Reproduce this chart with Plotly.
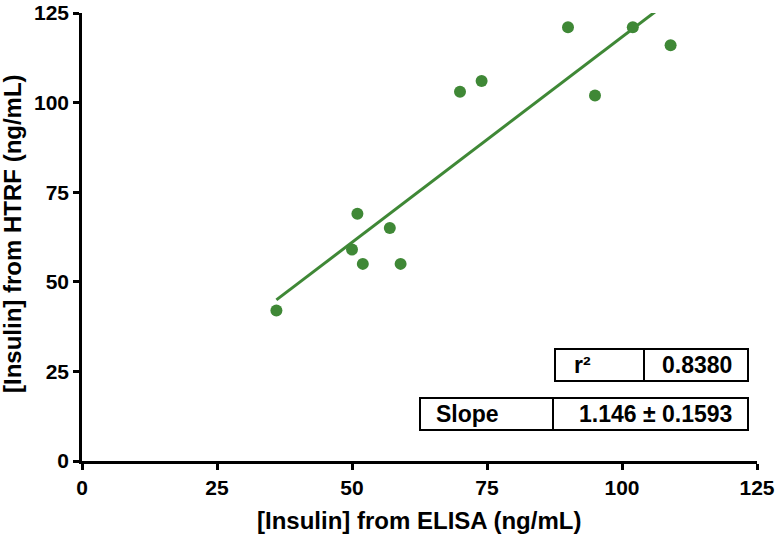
import plotly.graph_objects as go

elisa = [36, 50, 51, 52, 57, 59, 70, 74, 90, 95, 102, 109]
htrf = [42, 59, 69, 55, 65, 55, 103, 106, 121, 102, 121, 116]
slope = 1.146
slope_se = 0.1593
intercept = 3.7
r2 = 0.8380
ticks = [0, 25, 50, 75, 100, 125]
x_title = "[Insulin] from ELISA (ng/mL)"
y_title = "[Insulin] from HTRF (ng/mL)"

green = "#3f8836"
font_fam = "Liberation Sans, Arial, sans-serif"

fig = go.Figure()
xfit = [min(elisa), max(elisa)]
yfit = [slope * v + intercept for v in xfit]
fig.add_trace(go.Scatter(x=xfit, y=yfit, mode="lines",
                         line=dict(color=green, width=3), hoverinfo="skip"))
fig.add_trace(go.Scatter(x=elisa, y=htrf, mode="markers",
                         marker=dict(color=green, size=12), cliponaxis=False))

W, H = 778, 534
L, R, T, B = 82, 21, 13, 73
pw, ph = W - L - R, H - T - B

def px(x):
    return (x - L) / pw

def py(y):
    return (H - B - y) / ph

shapes = []
annotations = []
box = dict(type="rect", xref="paper", yref="paper", line=dict(color="black", width=2),
           fillcolor="white", layer="above")
# r2 box
shapes.append(dict(box, x0=px(555), x1=px(748), y0=py(381), y1=py(349)))
shapes.append(dict(type="line", xref="paper", yref="paper", x0=px(644), x1=px(644),
                   y0=py(381), y1=py(349), line=dict(color="black", width=2)))
# slope box
shapes.append(dict(box, x0=px(420), x1=px(748), y0=py(430), y1=py(398)))
shapes.append(dict(type="line", xref="paper", yref="paper", x0=px(553), x1=px(553),
                   y0=py(430), y1=py(398), line=dict(color="black", width=2)))

tf = dict(family=font_fam, size=23, color="black")
annotations.append(dict(x=px(572), y=py(365), xref="paper", yref="paper", text="<b>r²</b>",
                        showarrow=False, xanchor="left", yanchor="middle", font=tf))
annotations.append(dict(x=px(734), y=py(365), xref="paper", yref="paper", text=f"<b>{r2:.4f}</b>",
                        showarrow=False, xanchor="right", yanchor="middle", font=tf))
annotations.append(dict(x=px(434), y=py(414), xref="paper", yref="paper", text="<b>Slope</b>",
                        showarrow=False, xanchor="left", yanchor="middle", font=tf))
annotations.append(dict(x=px(734), y=py(414), xref="paper", yref="paper",
                        text=f"<b>{slope:.3f} ± {slope_se:.4f}</b>",
                        showarrow=False, xanchor="right", yanchor="middle", font=tf))

title_font = dict(family=font_fam, size=24, color="black")
annotations.append(dict(x=px(419), y=py(520), xref="paper", yref="paper",
                        text=f"<b>{x_title}</b>", showarrow=False,
                        xanchor="center", yanchor="middle", font=title_font))
annotations.append(dict(x=px(12), y=py(234), xref="paper", yref="paper",
                        text=f"<b>{y_title}</b>", showarrow=False, textangle=-90,
                        xanchor="center", yanchor="middle", font=title_font))

axis_common = dict(
    showgrid=False, zeroline=False, showline=True, linecolor="black", linewidth=2.5,
    ticks="outside", ticklen=6, tickwidth=2.5, tickcolor="black",
    tickvals=ticks, ticktext=[f"<b>{t}</b>" for t in ticks],
    tickfont=dict(family=font_fam, size=21, color="black"),
    automargin=False, ticklabeloverflow="allow",
)

fig.update_layout(
    width=W, height=H,
    margin=dict(l=L, r=R, t=T, b=B),
    paper_bgcolor="white", plot_bgcolor="white",
    showlegend=False,
    xaxis=dict(axis_common, range=[0, 125]),
    yaxis=dict(axis_common, range=[0, 125]),
    shapes=shapes, annotations=annotations,
)

fig.write_html("out.html", config={"displayModeBar": False},
               post_script="document.body.style.margin='0';")
